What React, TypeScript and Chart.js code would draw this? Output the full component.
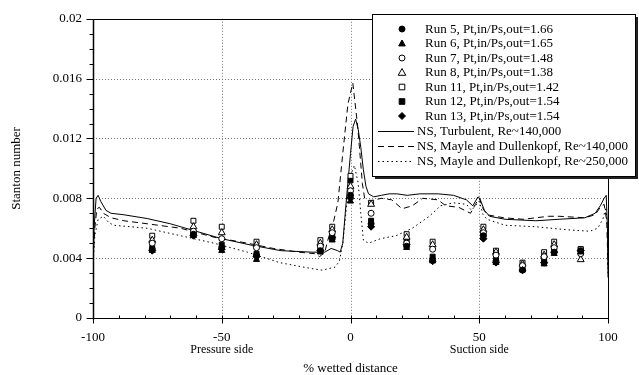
import React, { useEffect, useRef } from 'react';
import { Chart, registerables } from 'chart.js';

Chart.register(...registerables);

const FONT = '"Liberation Serif", "Times New Roman", serif';

// measurement stations (% wetted distance)
const stationX = [-77, -61, -50, -36.5, -11.7, -7.1, 0, 8, 21.8, 31.9, 51.6, 56.5, 66.8, 75.2, 79.1, 89.4];

const run5 = [0.0046, 0.0056, 0.0047, 0.0042, 0.0045, 0.0053, 0.0082, 0.0063, 0.0048, 0.0039, 0.0055, 0.0038, 0.0032, 0.0037, 0.0044, 0.0045];
const run6 = [0.0045, 0.0055, 0.0045, 0.0039, 0.0044, 0.0052, 0.0078, 0.0062, 0.0047, 0.0038, 0.0054, 0.0037, 0.0032, 0.0036, 0.0043, 0.0044];
const run7 = [0.0050, 0.0058, 0.0053, 0.0047, 0.0048, 0.0057, 0.0085, 0.0070, 0.0050, 0.0046, 0.0057, 0.0042, 0.0035, 0.0041, 0.0047, 0.0043];
const run8 = [0.0052, 0.0061, 0.0057, 0.0049, 0.0050, 0.0059, 0.0088, 0.0076, 0.0054, 0.0049, 0.0059, 0.0044, 0.0036, 0.0042, 0.0049, 0.0039];
const run11 = [0.0055, 0.0065, 0.0061, 0.0051, 0.0052, 0.0061, 0.0095, 0.0077, 0.0056, 0.0051, 0.0061, 0.0045, 0.0037, 0.0044, 0.0051, 0.0046];
const run12 = [0.0047, 0.0057, 0.0049, 0.0043, 0.0047, 0.0055, 0.0092, 0.0065, 0.0052, 0.0041, 0.0056, 0.0040, 0.0034, 0.0039, 0.0046, 0.0046];
const run13 = [0.0045, 0.0055, 0.0046, 0.0041, 0.0045, 0.0054, 0.0080, 0.0061, 0.0049, 0.0038, 0.0053, 0.0037, 0.0032, 0.0037, 0.0044, 0.0045];

// NS, Turbulent, Re~140,000
const turbX = [-100, -99.6, -98.8, -98, -97, -95, -93, -88, -79, -70, -61, -50, -38, -27, -15, -10, -7.5, -5, -4, -3, -1.7, 0, 1, 2, 3, 4, 5, 6, 7, 9, 12, 15, 18, 22, 27, 34, 40, 45, 47.5, 49.5, 50.2, 52, 54, 60, 72, 81, 91, 95, 97, 98.5, 99.3, 99.8, 100];
const turbY = [0.0030, 0.0060, 0.0080, 0.0082, 0.0078, 0.0072, 0.0070, 0.0069, 0.00665, 0.0063, 0.00585, 0.0053, 0.00485, 0.0045, 0.0044, 0.0044, 0.00465, 0.0045, 0.0044, 0.0050, 0.0077, 0.0110, 0.0128, 0.0133, 0.0126, 0.0114, 0.0099, 0.0088, 0.0083, 0.0081, 0.0082, 0.0083, 0.0083, 0.0082, 0.0083, 0.0083, 0.0082, 0.0079, 0.0075, 0.0081, 0.0080, 0.0072, 0.0068, 0.0066, 0.0065, 0.0066, 0.0067, 0.0070, 0.0075, 0.0080, 0.0082, 0.0060, 0.0027];

// NS, Mayle and Dullenkopf, Re~140,000
const md140X = [-100, -99.3, -98.5, -97.5, -96, -93, -88, -79, -66, -53, -40, -30, -20, -14, -12, -10, -8.8, -6.5, -4.9, -3, -1, 0.9, 2.8, 3.9, 4.6, 5.5, 7, 12, 16, 20, 24, 28, 34, 37, 42, 46.6, 48.5, 50, 51.5, 53, 59.5, 67, 77, 81, 91, 95, 97, 98.5, 99.5, 100];
const md140Y = [0.0040, 0.0060, 0.0073, 0.0074, 0.0070, 0.0067, 0.0065, 0.0063, 0.0060, 0.0054, 0.0050, 0.00465, 0.0044, 0.0043, 0.0041, 0.0044, 0.0052, 0.0065, 0.0077, 0.0110, 0.0143, 0.0157, 0.0128, 0.0105, 0.0090, 0.0080, 0.0078, 0.0080, 0.0079, 0.0073, 0.0075, 0.0080, 0.0079, 0.0075, 0.0074, 0.0070, 0.0076, 0.0080, 0.0073, 0.0069, 0.0067, 0.0066, 0.0068, 0.0068, 0.0067, 0.0069, 0.0074, 0.0076, 0.0065, 0.0035];

// NS, Mayle and Dullenkopf, Re~250,000
const md250X = [-100, -99.3, -98, -96, -94, -92, -79, -66, -53, -40, -27.5, -15, -11, -6, -4.3, -3, -1.5, 0, 1.5, 3, 4, 5, 7, 11.6, 17.7, 24, 30.6, 35, 40, 45, 47, 49, 50, 51.5, 53, 60, 72, 84, 93, 96, 98, 99.2, 99.8, 100];
const md250Y = [0.0035, 0.0055, 0.0066, 0.0068, 0.0064, 0.0062, 0.0060, 0.0055, 0.0050, 0.0044, 0.0037, 0.0033, 0.0032, 0.0034, 0.0038, 0.0050, 0.0075, 0.0095, 0.0102, 0.0090, 0.0070, 0.0052, 0.0050, 0.0053, 0.0055, 0.0060, 0.0068, 0.0075, 0.0077, 0.0076, 0.0072, 0.0076, 0.0078, 0.0069, 0.0066, 0.0062, 0.0061, 0.0059, 0.0058, 0.0060, 0.0066, 0.0074, 0.0060, 0.0030];

const runLabels = [
  'Run 5, Pt,in/Ps,out=1.66',
  'Run 6, Pt,in/Ps,out=1.65',
  'Run 7, Pt,in/Ps,out=1.48',
  'Run 8, Pt,in/Ps,out=1.38',
  'Run 11, Pt,in/Ps,out=1.42',
  'Run 12, Pt,in/Ps,out=1.54',
  'Run 13, Pt,in/Ps,out=1.54',
];
const lineLabels = [
  'NS, Turbulent, Re~140,000',
  'NS, Mayle and Dullenkopf, Re~140,000',
  'NS, Mayle and Dullenkopf, Re~250,000',
];

const xTicks = [-100, -50, 0, 50, 100];
const xGrid = [-50, 0, 50];
const yGrid = [0.004, 0.008, 0.012, 0.016];
const xSubLabels = [
  { at: -50, text: 'Pressure side' },
  { at: 50, text: 'Suction side' },
];

type Marker = { style: string; filled: boolean; r: number };
const markers: Marker[] = [
  { style: 'circle', filled: true, r: 3 },
  { style: 'triangle', filled: true, r: 3.5 },
  { style: 'circle', filled: false, r: 3 },
  { style: 'triangle', filled: false, r: 4 },
  { style: 'rect', filled: false, r: 3.5 },
  { style: 'rect', filled: true, r: 3.5 },
  { style: 'rectRot', filled: true, r: 3.5 },
];
const runs = [run5, run6, run7, run8, run11, run12, run13];
const lineDashes = [[], [6, 4], [1.5, 3]];

function drawMarker(ctx: CanvasRenderingContext2D, m: Marker, x: number, y: number) {
  ctx.save();
  ctx.beginPath();
  const r = m.r;
  if (m.style === 'circle') {
    ctx.arc(x, y, r, 0, Math.PI * 2);
  } else if (m.style === 'triangle') {
    ctx.moveTo(x, y - r);
    ctx.lineTo(x + r * 0.95, y + r * 0.7);
    ctx.lineTo(x - r * 0.95, y + r * 0.7);
    ctx.closePath();
  } else if (m.style === 'rect') {
    ctx.rect(x - r * 0.8, y - r * 0.8, r * 1.6, r * 1.6);
  } else {
    ctx.moveTo(x, y - r);
    ctx.lineTo(x + r, y);
    ctx.lineTo(x, y + r);
    ctx.lineTo(x - r, y);
    ctx.closePath();
  }
  ctx.fillStyle = m.filled ? '#000' : '#fff';
  ctx.fill();
  ctx.lineWidth = 1;
  ctx.strokeStyle = '#000';
  ctx.stroke();
  ctx.restore();
}

const framePlugin = {
  id: 'frameAndLegend',
  beforeDatasetsDraw(chart: any) {
    const { ctx, chartArea: a, scales } = chart;
    const x = scales.x, y = scales.y;
    ctx.save();
    ctx.strokeStyle = '#777';
    ctx.lineWidth = 1;
    ctx.setLineDash([1, 2]);
    for (const v of xGrid) {
      const px = Math.round(x.getPixelForValue(v)) + 0.5;
      ctx.beginPath(); ctx.moveTo(px, a.top); ctx.lineTo(px, a.bottom); ctx.stroke();
    }
    for (const v of yGrid) {
      const py = Math.round(y.getPixelForValue(v)) + 0.5;
      ctx.beginPath(); ctx.moveTo(a.left, py); ctx.lineTo(a.right, py); ctx.stroke();
    }
    ctx.restore();
  },
  afterDatasetsDraw(chart: any) {
    const { ctx, chartArea: a, scales } = chart;
    const x = scales.x, y = scales.y;
    ctx.save();
    ctx.strokeStyle = '#000';
    ctx.lineWidth = 1;
    ctx.setLineDash([]);
    const L = Math.round(a.left) + 0.5, R = Math.round(a.right) + 0.5;
    const T = Math.round(a.top) + 0.5, B = Math.round(a.bottom) + 0.5;
    ctx.beginPath();
    ctx.moveTo(L, T); ctx.lineTo(R, T); ctx.lineTo(R, B); ctx.lineTo(L, B); ctx.closePath();
    ctx.stroke();
    ctx.lineWidth = 1.5;
    ctx.beginPath(); ctx.moveTo(L, T); ctx.lineTo(L, B + 1); ctx.stroke();
    ctx.lineWidth = 1;
    // x ticks
    for (let v = -100; v <= 100; v += 10) {
      const px = Math.round(x.getPixelForValue(v)) + 0.5;
      ctx.beginPath();
      if (v % 50 === 0) { ctx.moveTo(px, B - 3); ctx.lineTo(px, B + 5); }
      else { ctx.moveTo(px, B); ctx.lineTo(px, B - 3); }
      ctx.stroke();
    }
    // y ticks
    for (let i = 0; i <= 20; i++) {
      const v = i / 1000;
      const py = Math.round(y.getPixelForValue(v)) + 0.5;
      ctx.beginPath();
      if (i % 4 === 0) { ctx.moveTo(L - 7, py); ctx.lineTo(L, py); }
      else { ctx.moveTo(L - 4, py); ctx.lineTo(L, py); }
      ctx.stroke();
    }
    ctx.restore();
  },
  afterDraw(chart: any) {
    const { ctx, scales } = chart;
    const x = scales.x;
    ctx.save();
    ctx.fillStyle = '#000';
    ctx.font = '12px ' + FONT;
    ctx.textAlign = 'center';
    ctx.textBaseline = 'middle';
    for (const s of xSubLabels) ctx.fillText(s.text, x.getPixelForValue(s.at), 350);

    // legend
    const lx = 372, ly = 14, lw = 263, lh = 162;
    ctx.fillStyle = '#222';
    ctx.fillRect(lx + 3, ly + 3, lw, lh);
    ctx.fillStyle = '#fff';
    ctx.fillRect(lx, ly, lw, lh);
    ctx.strokeStyle = '#000';
    ctx.lineWidth = 1;
    ctx.strokeRect(lx + 0.5, ly + 0.5, lw, lh);
    ctx.font = '13px ' + FONT;
    ctx.textAlign = 'left';
    ctx.fillStyle = '#000';
    const runRow = (i: number) => 29 + i * 14.5;
    const lineRow = (j: number) => 131 + j * 15;
    runLabels.forEach((t, i) => {
      drawMarker(ctx, markers[i], 402, runRow(i));
      ctx.fillStyle = '#000';
      ctx.fillText(t, 425, runRow(i) + 0.5);
    });
    lineLabels.forEach((t, j) => {
      const yy = Math.round(lineRow(j)) + 0.5;
      ctx.save();
      ctx.setLineDash(lineDashes[j]);
      ctx.beginPath(); ctx.moveTo(378, yy); ctx.lineTo(414, yy); ctx.stroke();
      ctx.restore();
      ctx.fillText(t, 417, yy + 0.5);
    });
    ctx.restore();
  },
};

export default function App() {
  const ref = useRef<HTMLCanvasElement>(null);
  useEffect(() => {
    if (!ref.current) return;
    const curve = (xs: number[], ys: number[], label: string, dash: number[]) => ({
      label,
      data: xs.map((v, i) => ({ x: v, y: ys[i] })),
      showLine: true,
      pointRadius: 0,
      borderColor: '#000',
      borderWidth: 1,
      borderDash: dash,
      tension: 0,
      order: 2,
    });
    const runSets = runs.map((vals, i) => ({
      label: runLabels[i],
      data: stationX.map((v, k) => ({ x: v, y: vals[k] })),
      showLine: false,
      pointStyle: markers[i].style,
      pointRadius: markers[i].r,
      pointBackgroundColor: markers[i].filled ? '#000' : '#fff',
      pointBorderColor: '#000',
      pointBorderWidth: 1,
      order: 1,
    }));
    const chart = new Chart(ref.current, {
      type: 'scatter',
      data: {
        datasets: [
          ...runSets,
          curve(turbX, turbY, lineLabels[0], lineDashes[0]),
          curve(md140X, md140Y, lineLabels[1], lineDashes[1]),
          curve(md250X, md250Y, lineLabels[2], lineDashes[2]),
        ] as any,
      },
      options: {
        animation: false,
        responsive: false,
        devicePixelRatio: 1,
        layout: { padding: { top: 18, right: 31, left: 0, bottom: 0 } },
        plugins: { legend: { display: false }, tooltip: { enabled: false } },
        scales: {
          x: {
            type: 'linear',
            min: -100,
            max: 100,
            afterBuildTicks: (s: any) => { s.ticks = xTicks.map((v) => ({ value: v })); },
            afterFit: (s: any) => { s.height = 57; },
            grid: { display: false, drawTicks: false },
            border: { display: false },
            ticks: {
              color: '#000',
              font: { family: FONT, size: 13 },
              padding: 12,
              maxRotation: 0,
              autoSkip: false,
              callback: (v: any) => String(v),
            },
            title: {
              display: true,
              text: '% wetted distance',
              color: '#000',
              font: { family: FONT, size: 13, lineHeight: 1 },
              padding: { top: 0, bottom: 0 },
            },
          },
          y: {
            type: 'linear',
            min: 0,
            max: 0.02,
            ticks: {
              stepSize: 0.004,
              color: '#000',
              font: { family: FONT, size: 13 },
              padding: 11,
              callback: (v: any) => String(parseFloat(Number(v).toFixed(4))),
            },
            afterFit: (s: any) => { s.width = 93; },
            grid: { display: false, drawTicks: false },
            border: { display: false },
            title: {
              display: true,
              text: 'Stanton number',
              color: '#000',
              font: { family: FONT, size: 13 },
              padding: { top: 9, bottom: 0 },
            },
          },
        },
      },
      plugins: [framePlugin],
    });
    return () => chart.destroy();
  }, []);
  return (
    <div style={{ position: 'fixed', left: 0, top: 0, width: 639, height: 375, background: '#fff' }}>
      <canvas ref={ref} width={639} height={375} style={{ width: 639, height: 375, display: 'block' }} />
    </div>
  );
}
